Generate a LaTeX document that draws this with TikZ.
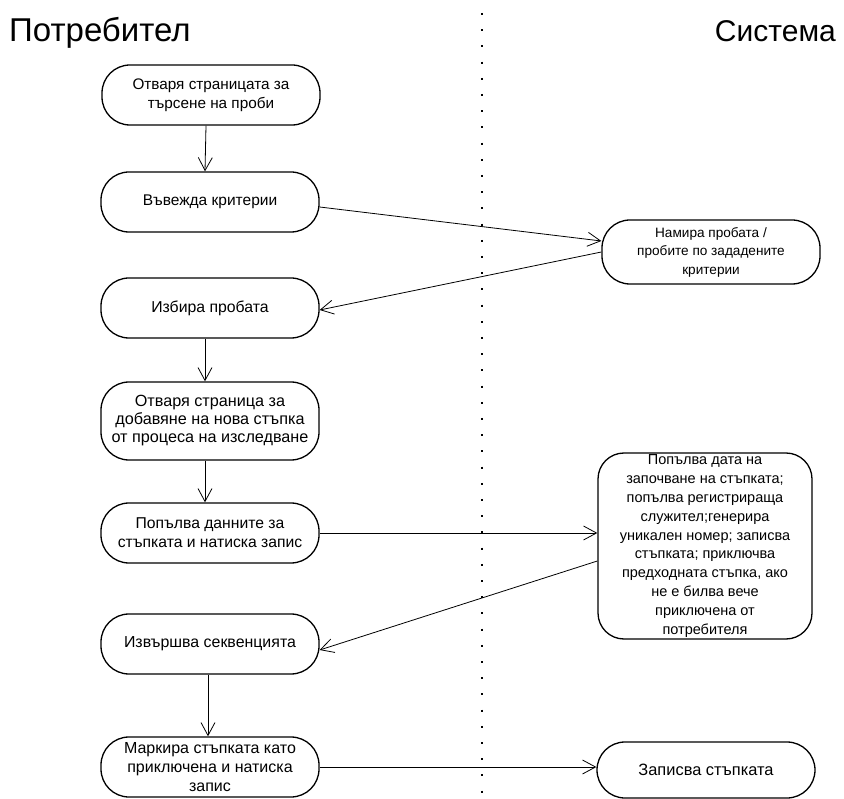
\documentclass[tikz,border=0pt]{standalone}
\usepackage{fontspec}
\setmainfont{Liberation Sans}
\usetikzlibrary{arrows.meta}
\newcommand{\fs}[1]{\fontsize{#1}{19}\selectfont}
\begin{document}
\begin{tikzpicture}[x=1pt,y=-1pt,
  act/.style={draw, line width=1.3pt, rounded corners=28pt, align=center,
    minimum width=218pt, minimum height=60pt, inner sep=1pt, font=\fs{15}},
  flow/.style={-{Straight Barb[length=13pt,width=14pt]}, line width=0.8pt},
  lane/.style={anchor=base, inner sep=0pt}]
\useasboundingbox (0,0) rectangle (844,799);

% swimlane titles and separator
\node[lane, anchor=base west, font=\fontsize{33}{36}\selectfont] (user) at (9,42) {Потребител};
\node[lane, anchor=base east, font=\fontsize{30}{36}\selectfont] (sys) at (836,42) {Система};
\coordinate (laneTop) at (482,13);
\coordinate (laneBot) at (482,799);
\draw[line width=2pt, dash pattern=on 2pt off 14.2pt] (laneTop) -- (laneBot);

% user activities
\node[act, font=\fs{15.3}] (n1) at (211,95) {Отваря страницата за\\търсене на проби};
\node[act, font=\fs{15.5}] (n2) at (210,202) {Въвежда критерии};
\node[act, font=\fs{15.8}] (n3) at (210,308) {Избира пробата};
\node[act, minimum height=78pt, font=\fontsize{16.2}{18}\selectfont] (n4) at (210,421) {Отваря страница за\\добавяне на нова стъпка\\от процеса на изследване};
\node[act, font=\fs{15.7}] (n5) at (210,533) {Попълва данните за\\стъпката и натиска запис};
\node[act, font=\fs{15.9}] (n6) at (210,644) {Извършва секвенцията};
\node[act, font=\fontsize{16}{19}\selectfont] (n7) at (210,767) {Маркира стъпката като\\приключена и натиска\\запис};

% system activities
\node[act, minimum height=64pt, font=\fontsize{13.6}{18.5}\selectfont] (a) at (711,252) {Намира пробата /\\пробите по зададените\\критерии};
\node[act, rounded corners=26pt, minimum width=214pt, minimum height=186pt, font=\fontsize{14.5}{18.9}\selectfont] (b) at (705,546)
  {Попълва дата на\\започване на стъпката;\\попълва регистрираща\\служител;генерира\\уникален номер; записва\\стъпката; приключва\\предходната стъпка, ако\\не е билва вече\\приключена от\\потребителя};
\node[act, minimum height=56pt, font=\fs{16.4}] (c) at (706,770) {Записва стъпката};

% control flow
\draw[flow] ([xshift=-5pt]n1.south) -- ([xshift=-5pt]n2.north);
\draw[flow] ([yshift=-5pt]n2.east) -- ([yshift=11pt]a.west);
\draw[flow] ([yshift=0pt]a.west) -- ([yshift=-2pt]n3.east);
\draw[flow] ([xshift=-5pt]n3.south) -- ([xshift=-5pt]n4.north);
\draw[flow] ([xshift=-5pt]n4.south) -- ([xshift=-5pt]n5.north);
\draw[flow] (n5.east) -- (n5.east -| b.west);
\draw[flow] ([yshift=-15pt]b.west) -- ([yshift=-6pt]n6.east);
\draw[flow] ([xshift=-2pt]n6.south) -- ([xshift=-2pt]n7.north);
\draw[flow] (n7.east) -- (n7.east -| c.west);
\end{tikzpicture}
\end{document}
